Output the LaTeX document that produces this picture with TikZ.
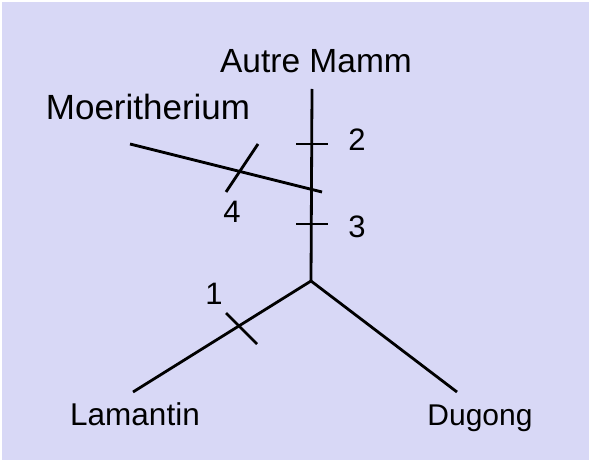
\documentclass[tikz,border=0pt]{standalone}
\usepackage{fontspec}
\setmainfont{Liberation Sans}
\definecolor{bg}{HTML}{D8D8F6}
\begin{document}
\begin{tikzpicture}[x=1pt,y=-1pt,
  branch/.style={line width=2.8pt,line cap=butt},
  lbl/.style={anchor=base,inner sep=0pt,font=\fontsize{31}{35}\selectfont},
  num/.style={anchor=base,inner sep=0pt,font=\fontsize{31}{35}\selectfont}]
\useasboundingbox (0,0) rectangle (591,462);
\fill[white] (0,0) rectangle (591,462);
\fill[bg] (2,2) rectangle (589,460);
% points
\coordinate (top) at (312,89);
\coordinate (jn) at (311,281);
\coordinate (mL) at (130,144);
\coordinate (mR) at (322,192);
\coordinate (lam) at (133,392);
\coordinate (dug) at (457,392);
\coordinate (t2a) at (296,144); \coordinate (t2b) at (328,144);
\coordinate (t3a) at (296,224); \coordinate (t3b) at (328,224);
\coordinate (t4a) at (258,144); \coordinate (t4b) at (226,192);
\coordinate (t1a) at (226,313); \coordinate (t1b) at (257,344);
% branches
\draw[branch] (top) -- (jn);
\draw[branch] (mL) -- (mR);
\draw[branch] (jn) -- (lam);
\draw[branch] (jn) -- (dug);
% ticks
\draw[branch] (t2a) -- (t2b);
\draw[branch] (t3a) -- (t3b);
\draw[branch] (t4a) -- (t4b);
\draw[branch] (t1a) -- (t1b);
% labels
\node[lbl,font=\fontsize{33.5}{37}\selectfont] (autre) at (316,73) {Autre Mamm};
\node[lbl,font=\fontsize{35}{39}\selectfont] (moer) at (148,120) {Moeritherium};
\node[lbl,font=\fontsize{31.5}{35}\selectfont] (lamt) at (135,425) {Lamantin};
\node[lbl,font=\fontsize{30}{34}\selectfont] (dugt) at (480,425) {Dugong};
\node[num] (n2) at (357,151) {2};
\node[num] (n3) at (357,237) {3};
\node[num] (n4) at (232,223) {4};
\node[num] (n1) at (214,304) {1};
\end{tikzpicture}
\end{document}
